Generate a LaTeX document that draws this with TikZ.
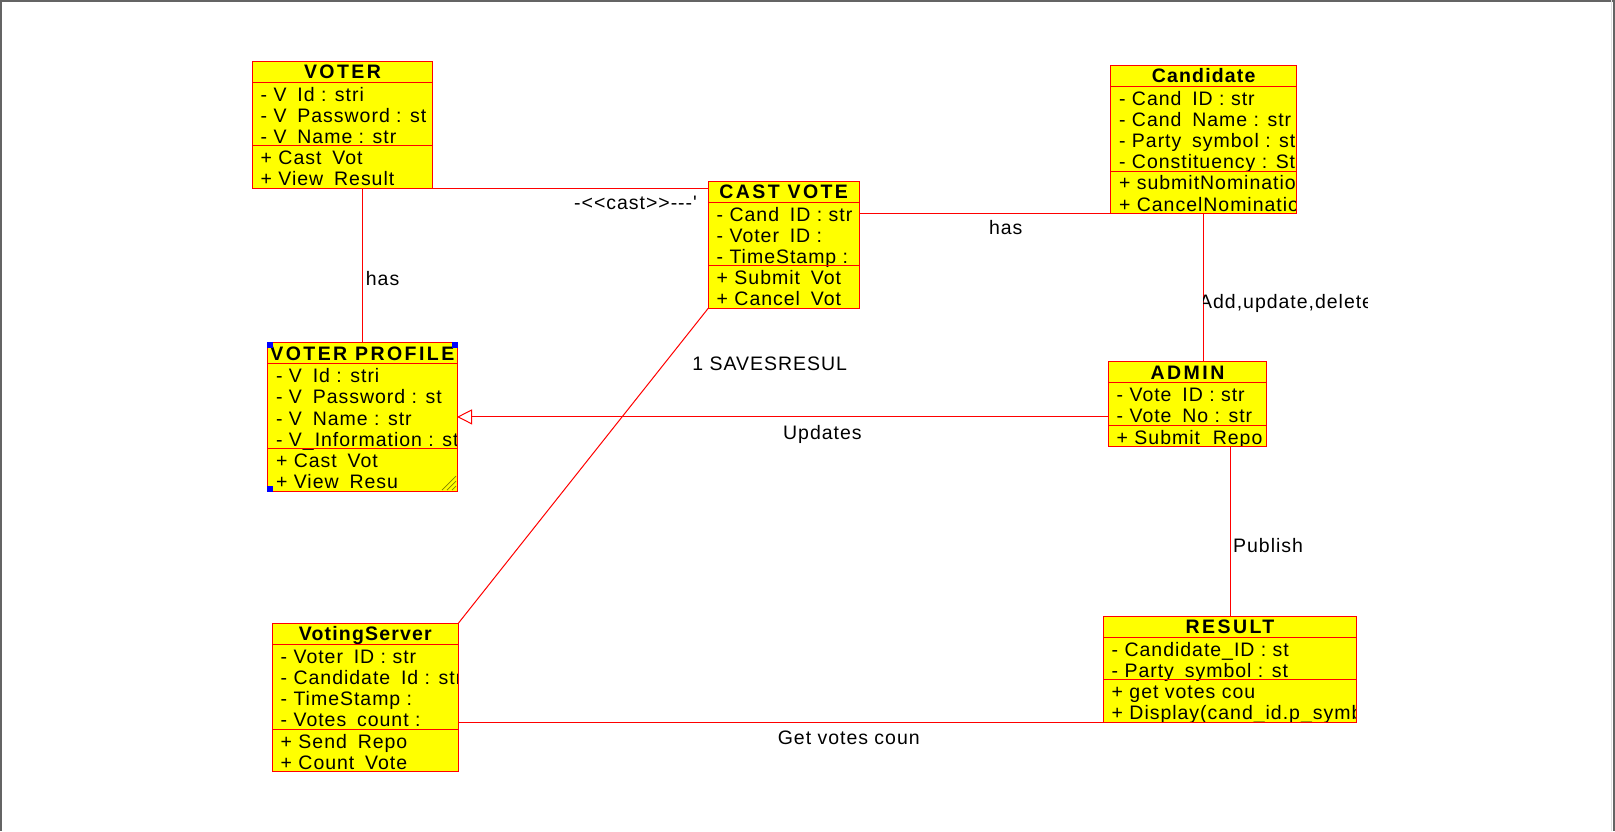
\documentclass[tikz,border=0pt]{standalone}
\usepackage{fontspec}
\setmainfont{Liberation Sans}
\newfontfamily\umlbody{Liberation Sans}[LetterSpace=5]
\newfontfamily\umlhead{Liberation Sans}[LetterSpace=6]
\usetikzlibrary{calc,arrows.meta}

\definecolor{umlred}{RGB}{255,0,0}
\definecolor{umlyellow}{RGB}{255,255,0}
\definecolor{framegray}{RGB}{100,100,100}
\definecolor{griplines}{RGB}{128,128,0}

% width of a hidden underscore
\newcommand\hid{\phantom{\_}}
% wider tracking for all-capital class titles
\newcommand\capsp{\addfontfeatures{LetterSpace=12.5}}
\def\rowh{21.2}

\tikzset{
  classbox/.style={draw=umlred, fill=umlyellow, line width=1pt, inner sep=0pt, outer sep=0pt},
  classline/.style={draw=umlred, line width=1pt},
  link/.style={draw=umlred, line width=1pt},
  titletext/.style={anchor=base, inner sep=0pt, font=\umlhead\bfseries\fontsize{19.5}{22}\selectfont},
  membertext/.style={anchor=base west, inner sep=0pt, font=\umlbody\fontsize{19.5}{22}\selectfont},
  linklabel/.style={anchor=base west, inner sep=0pt, font=\umlbody\fontsize{19.5}{22}\selectfont},
}

% #1 name, #2 x, #3 y, #4 width, #5 attribute rows, #6 operation rows,
% #7 title, #8 attributes, #9 operations
\newcommand\umlclass[9]{%
  \pgfmathsetmacro\clsh{\rowh*(1+#5+#6)}%
  \node[classbox, minimum width=#4pt, minimum height=\clsh pt, anchor=north west] (#1) at (#2,#3) {};
  \begin{scope}
    \clip ($(#1.north west)+(1,1)$) rectangle ($(#1.south east)+(-1,-1)$);
    \node[titletext] (#1-title) at ($(#1.north)+(0,17.3)$) {#7};
    \foreach \txt [count=\i] in {#8}{
      \pgfmathsetmacro\yy{\rowh*\i+18.8}
      \node[membertext] (#1-a\i) at ($(#1.north west)+(8.2,\yy)$) {\txt};
    }
    \foreach \txt [count=\i] in {#9}{
      \pgfmathsetmacro\yy{\rowh*(\i+#5)+18.8}
      \node[membertext] (#1-o\i) at ($(#1.north west)+(8.2,\yy)$) {\txt};
    }
  \end{scope}
  \pgfmathsetmacro\ya{\rowh}%
  \pgfmathsetmacro\yb{\rowh*(1+#5)}%
  \draw[classline] ($(#1.north west)+(0,\ya)$) -- ($(#1.north east)+(0,\ya)$);
  \draw[classline] ($(#1.north west)+(0,\yb)$) -- ($(#1.north east)+(0,\yb)$);
}

\begin{document}
\begin{tikzpicture}[x=1pt, y=-1pt]
\useasboundingbox (0,0) rectangle (1615,831);
\fill[white] (0,0) rectangle (1615,831);

% page frame
\draw[framegray, line width=1.5pt] (0,0.75) -- (1615,0.75);
\draw[framegray, line width=1.5pt] (0.75,0) -- (0.75,831);
\draw[gray!25, line width=1pt] (1611,0) -- (1611,831);
\draw[framegray, line width=2.2pt] (1613.9,0) -- (1613.9,831);

% classes
\umlclass{voter}{252.3}{61}{180.4}{3}{2}{\capsp VOTER}
  {- V\hid{}Id : stri, - V\hid{}Password : st, - V\hid{}Name : str}
  {+ Cast\hid{}Vot, + View\hid{}Result}
\umlclass{cand}{1110.7}{65}{186}{4}{2}{Candidate}
  {- Cand\hid{}ID : str, - Cand\hid{}Name : str, - Party\hid{}symbol : st, - Constituency : St}
  {+ submitNominatio, + CancelNominatio}
\umlclass{cast}{708.3}{181}{150.7}{3}{2}{\capsp CAST VOTE}
  {- Cand\hid{}ID : str, - Voter\hid{}ID :, - TimeStamp :}
  {+ Submit\hid{}Vot, + Cancel\hid{}Vot}
\umlclass{vprof}{267.7}{342.7}{189.3}{4}{2}{\capsp VOTER PROFILE}
  {- V\hid{}Id : stri, - V\hid{}Password : st, - V\hid{}Name : str, - V\_Information : st}
  {+ Cast\hid{}Vot, + View\hid{}Resu}
\umlclass{admin}{1108.3}{361.7}{158.4}{2}{1}{\capsp ADMIN}
  {- Vote\hid{}ID : str, - Vote\hid{}No : str}
  {+ Submit\_Repo}
\umlclass{vserver}{272.3}{623.3}{186}{4}{2}{VotingServer}
  {- Voter\hid{}ID : str, - Candidate\hid{}Id : str, - TimeStamp :, - Votes\hid{}count :}
  {+ Send\hid{}Repo, + Count\hid{}Vote}
\umlclass{result}{1103.3}{616}{253.4}{2}{2}{\capsp RESULT}
  {- Candidate\_ID : st, - Party\hid{}symbol : st}
  {+ get votes cou, + Display(cand\_id.p\_symb}

% selection handles and resize grip on VOTER PROFILE
\fill[blue] ($(vprof.north west)+(-0.5,-0.5)$) rectangle ++(5.5,5.5);
\fill[blue] ($(vprof.north east)+(0.5,-0.5)$) rectangle ++(-5.5,5.5);
\fill[blue] ($(vprof.south west)+(-0.5,0.5)$) rectangle ++(5.5,-5.5);
\foreach \d in {5,10,15}
  \draw[griplines, line width=0.8pt] ($(vprof.south east)+(-\d,-1)$) -- ($(vprof.south east)+(-1,-\d)$);

% associations
\draw[link] (voter.south east) -- (voter.south east -| cast.west);
\draw[link] (vprof.north) -- (vprof.north |- voter.south);
\draw[link] (cast.east |- cand.south west) -- (cand.south west);
\draw[link] (cand.south) -- (cand.south |- admin.north);
\draw[link, -{Triangle[open, length=15pt, width=15pt]}] (admin.west |- vprof.east) -- (vprof.east);
\draw[link] (result.north) -- (result.north |- admin.south);
\draw[link] (cast.south west) -- (vserver.north east);
\draw[link] (result.south west) -- (result.south west -| vserver.east);

% association labels
\node[linklabel] (lbl-cast) at (574,209) {-<{}<cast>{}>-{}-{}-'};
\node[linklabel] (lbl-has1) at (365.7,285) {has};
\node[linklabel] (lbl-has2) at (988.8,234.8) {has};
\begin{scope}
  \clip (1203.8,280) rectangle (1367,320);
  \node[linklabel] (lbl-crud) at (1199,308) {Add,update,delete};
\end{scope}
\node[linklabel] (lbl-saves) at (692.2,370.8) {1 SAVESRESUL};
\node[linklabel] (lbl-upd) at (783,439) {Updates};
\node[linklabel] (lbl-pub) at (1233,552) {Publish};
\node[linklabel] (lbl-get) at (777.6,744.7) {Get votes coun};
\end{tikzpicture}
\end{document}
